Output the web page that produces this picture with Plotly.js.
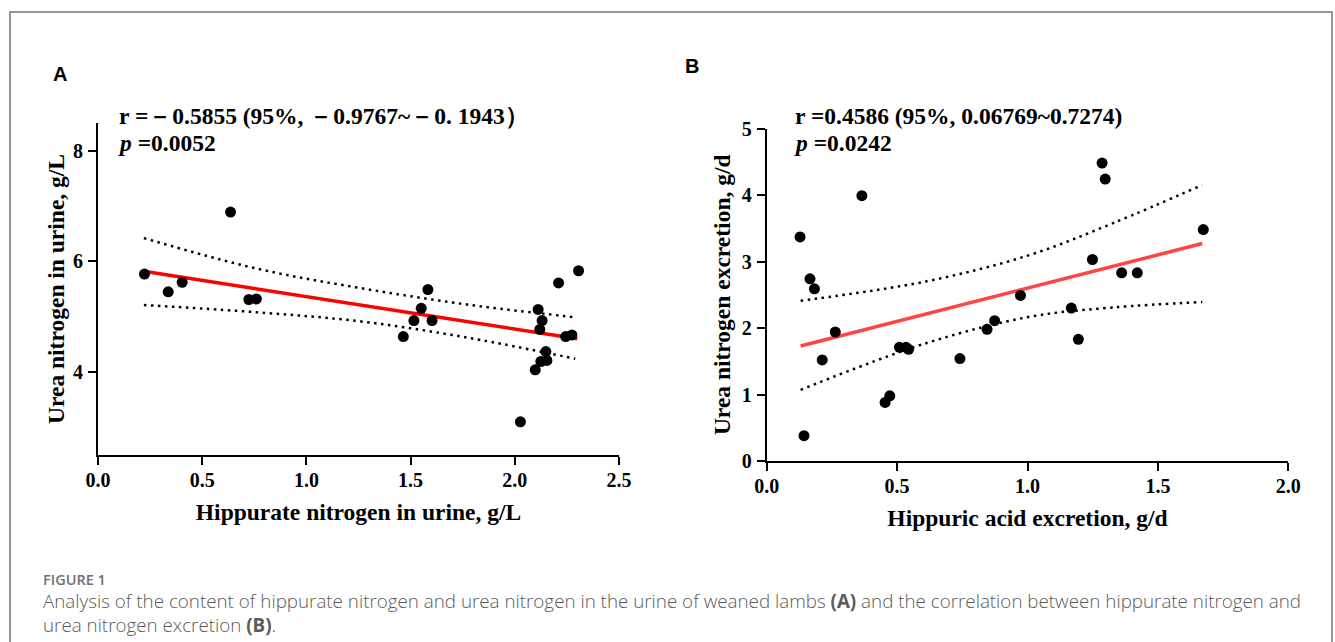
<!DOCTYPE html>
<html><head><meta charset="utf-8">
<script src="https://cdn.plot.ly/plotly-3.0.1.min.js"></script>
<style>html,body{margin:0;padding:0;background:#fff;overflow:hidden}#chart{width:1335px;height:642px;}</style>
</head><body><div id="chart"></div>
<script>
// ---------- Panel A data: hippurate N vs urea N in urine (g/L) ----------
const A_hippurateN = [0.223,0.337,0.404,0.636,0.724,0.760,1.465,1.516,1.551,1.583,1.603,2.027,2.098,2.112,2.120,2.125,2.131,2.149,2.154,2.210,2.244,2.274,2.306];
const A_ureaN      = [5.77, 5.45, 5.62, 6.89, 5.31, 5.32, 4.64, 4.93, 5.15, 5.49, 4.93, 3.10, 4.04, 5.13, 4.77, 4.19, 4.93, 4.37, 4.21, 5.61, 4.64, 4.67, 5.83];
const A_fitX   = [0.22, 2.30];
const A_fitY   = [5.82, 4.60];
const A_bandX  = [0.22, 0.76, 1.27, 1.79, 2.29];
const A_upper  = [6.42, 5.87, 5.51, 5.21, 4.99];
const A_lower  = [5.21, 5.08, 4.91, 4.61, 4.24];
const A_xTickVals = [0, 0.5, 1, 1.5, 2, 2.5];
const A_xTickText = ['0.0','0.5','1.0','1.5','2.0','2.5'];
const A_yTickVals = [4, 6, 8];
const A_yTickText = ['4','6','8'];

// ---------- Panel B data: hippuric acid excretion vs urea N excretion (g/d) ----------
const B_hippuricAcid = [0.128,0.143,0.166,0.183,0.213,0.263,0.365,0.454,0.472,0.509,0.534,0.544,0.741,0.845,0.874,0.973,1.168,1.195,1.249,1.286,1.298,1.361,1.421,1.674];
const B_ureaN        = [3.37, 0.38, 2.74, 2.59, 1.52, 1.94, 3.99, 0.88, 0.98, 1.71, 1.71, 1.68, 1.54, 1.98, 2.11, 2.49, 2.30, 1.83, 3.03, 4.48, 4.24, 2.83, 2.83, 3.48];
const B_fitX   = [0.13, 1.67];
const B_fitY   = [1.73, 3.27];
const B_bandX  = [0.13, 0.61, 1.01, 1.33, 1.67];
const B_upper  = [2.41, 2.70, 3.10, 3.58, 4.15];
const B_lower  = [1.07, 1.77, 2.17, 2.31, 2.39];
const B_xTickVals = [0, 0.5, 1, 1.5, 2];
const B_xTickText = ['0.0','0.5','1.0','1.5','2.0'];
const B_yTickVals = [0, 1, 2, 3, 4, 5];
const B_yTickText = ['0','1','2','3','4','5'];

const A_stat = 'r =－0.5855 (95%, －0.9767~－0. 1943）';
const A_p    = '<i>p</i> =0.0052';
const B_stat = 'r =0.4586 (95%, 0.06769~0.7274)';
const B_p    = '<i>p</i> =0.0242';
const captionHead = 'FIGURE 1';
const captionL1 = 'Analysis of the content of hippurate nitrogen and urea nitrogen in the urine of weaned lambs <b>(A)</b> and the correlation between hippurate nitrogen and';
const captionL2 = 'urea nitrogen excretion <b>(B)</b>.';

// ---------- layout helpers ----------
const W = 1335, H = 642;
const px = X => X / W;
const py = Y => 1 - Y / H;
const serif = 'Liberation Serif, Times New Roman, serif';
const tickFont  = {family: serif, size: 20, color: '#000', weight: 'bold'};
const titleFont = {family: serif, size: 23.5, color: '#000', weight: 'bold'};
const statFont  = {family: serif, size: 23.5, color: '#000', weight: 'bold'};
const dotLine = {color: '#000', width: 2.5, dash: '2.5px,4.5px', shape: 'spline'};

function axisBase(extra) {
  return Object.assign({
    showline: true, linecolor: '#000', linewidth: 2,
    ticks: 'outside', ticklen: 8, tickwidth: 2, tickcolor: '#000',
    showgrid: false, zeroline: false, tickmode: 'array',
    tickfont: tickFont, fixedrange: true
  }, extra);
}

const traces = [
  {x: A_bandX, y: A_upper, xaxis: 'x', yaxis: 'y', mode: 'lines', line: dotLine, hoverinfo: 'skip'},
  {x: A_bandX, y: A_lower, xaxis: 'x', yaxis: 'y', mode: 'lines', line: dotLine, hoverinfo: 'skip'},
  {x: A_fitX, y: A_fitY, xaxis: 'x', yaxis: 'y', mode: 'lines', line: {color: '#ff0000', width: 3.5}},
  {x: A_hippurateN, y: A_ureaN, xaxis: 'x', yaxis: 'y', mode: 'markers', marker: {color: '#000', size: 11}},
  {x: B_bandX, y: B_upper, xaxis: 'x2', yaxis: 'y2', mode: 'lines', line: dotLine, hoverinfo: 'skip'},
  {x: B_bandX, y: B_lower, xaxis: 'x2', yaxis: 'y2', mode: 'lines', line: dotLine, hoverinfo: 'skip'},
  {x: B_fitX, y: B_fitY, xaxis: 'x2', yaxis: 'y2', mode: 'lines', line: {color: '#ff4444', width: 3.5}},
  {x: B_hippuricAcid, y: B_ureaN, xaxis: 'x2', yaxis: 'y2', mode: 'markers', marker: {color: '#000', size: 11}}
];

const layout = {
  width: W, height: H,
  margin: {l: 0, r: 0, t: 0, b: 0},
  paper_bgcolor: '#fff', plot_bgcolor: 'rgba(0,0,0,0)',
  showlegend: false,
  xaxis: axisBase({domain: [px(98), px(619)], range: [0, 2.5], anchor: 'y',
    tickvals: A_xTickVals, ticktext: A_xTickText, ticklabelstandoff: -2,
    title: {text: 'Hippurate nitrogen in urine, g/L', font: titleFont, standoff: 14}}),
  yaxis: axisBase({domain: [py(455), py(123)], range: [2.5, 8.5], anchor: 'x',
    tickvals: A_yTickVals, ticktext: A_yTickText, ticklabelstandoff: 1,
    title: {text: 'Urea nitrogen in urine, g/L', font: titleFont, standoff: 2}}),
  xaxis2: axisBase({domain: [px(766.7), px(1288.3)], range: [0, 2], anchor: 'y2',
    tickvals: B_xTickVals, ticktext: B_xTickText, ticklabelstandoff: -2,
    title: {text: 'Hippuric acid excretion, g/d', font: titleFont, standoff: 14}}),
  yaxis2: axisBase({domain: [py(461), py(128.5)], range: [0, 5], anchor: 'x2',
    tickvals: B_yTickVals, ticktext: B_yTickText, ticklabelstandoff: 1,
    title: {text: 'Urea nitrogen excretion, g/d', font: titleFont, standoff: 4}}),
  annotations: [
    {xref: 'paper', yref: 'paper', x: px(60), y: py(74), text: 'A', showarrow: false,
     xanchor: 'center', yanchor: 'middle', font: {family: 'Liberation Sans, Arial, sans-serif', size: 20, color: '#000', weight: 'bold'}},
    {xref: 'paper', yref: 'paper', x: px(692), y: py(66), text: 'B', showarrow: false,
     xanchor: 'center', yanchor: 'middle', font: {family: 'Liberation Sans, Arial, sans-serif', size: 20, color: '#000', weight: 'bold'}},
    {xref: 'paper', yref: 'paper', x: px(117), y: py(116), text: A_stat, showarrow: false,
     xanchor: 'left', yanchor: 'middle', font: statFont},
    {xref: 'paper', yref: 'paper', x: px(116), y: py(143), text: A_p, showarrow: false,
     xanchor: 'left', yanchor: 'middle', font: statFont},
    {xref: 'paper', yref: 'paper', x: px(793), y: py(116), text: B_stat, showarrow: false,
     xanchor: 'left', yanchor: 'middle', font: statFont},
    {xref: 'paper', yref: 'paper', x: px(792), y: py(143), text: B_p, showarrow: false,
     xanchor: 'left', yanchor: 'middle', font: statFont},
    {xref: 'paper', yref: 'paper', x: px(41), y: py(579), text: captionHead, showarrow: false,
     xanchor: 'left', yanchor: 'middle', font: {family: 'Open Sans, sans-serif', size: 14.5, color: '#707070', weight: 600}},
    {xref: 'paper', yref: 'paper', x: px(41), y: py(601), text: captionL1, showarrow: false,
     xanchor: 'left', yanchor: 'middle', font: {family: 'Open Sans, sans-serif', size: 18.8, color: '#5a5a5a', weight: 300}},
    {xref: 'paper', yref: 'paper', x: px(41), y: py(625), text: captionL2, showarrow: false,
     xanchor: 'left', yanchor: 'middle', font: {family: 'Open Sans, sans-serif', size: 18.8, color: '#5a5a5a', weight: 300}}
  ],
  shapes: [
    {type: 'rect', xref: 'paper', yref: 'paper', x0: px(10), x1: px(1332), y0: py(700), y1: py(12),
     line: {color: '#777', width: 1.5}, fillcolor: 'rgba(0,0,0,0)', layer: 'below'}
  ]
};

Plotly.newPlot('chart', traces, layout, {staticPlot: true, displayModeBar: false});
</script></body></html>
